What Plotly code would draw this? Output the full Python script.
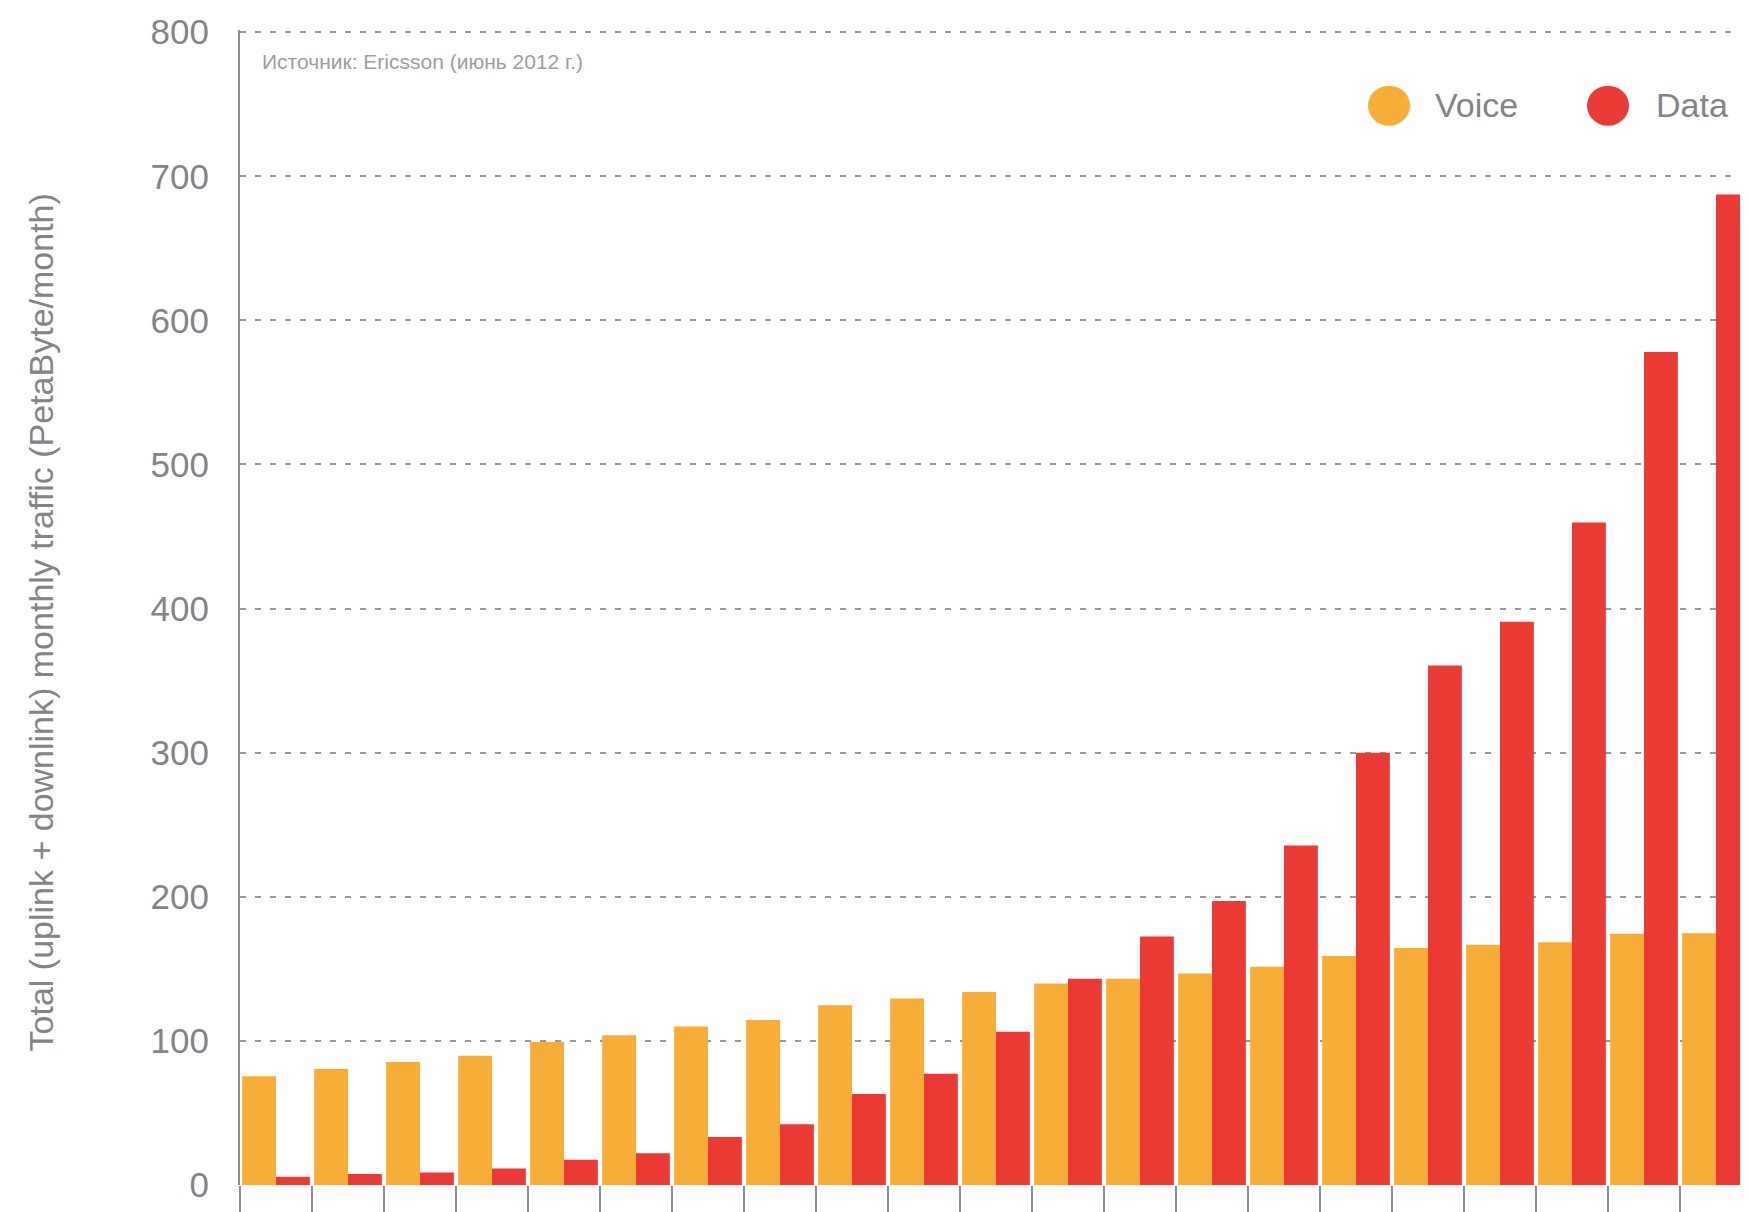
import plotly.graph_objects as go

# Quarters Q1 2007 .. Q1 2012 (no tick labels shown in the original)
quarters = [
    "Q1 2007", "Q2 2007", "Q3 2007", "Q4 2007",
    "Q1 2008", "Q2 2008", "Q3 2008", "Q4 2008",
    "Q1 2009", "Q2 2009", "Q3 2009", "Q4 2009",
    "Q1 2010", "Q2 2010", "Q3 2010", "Q4 2010",
    "Q1 2011", "Q2 2011", "Q3 2011", "Q4 2011",
    "Q1 2012",
]
voice = [75.5, 80.5, 85.3, 89.7, 99.3, 104.0, 110.0, 114.5, 124.8, 129.4, 134.0,
         139.8, 143.2, 146.7, 151.5, 158.9, 164.4, 166.7, 168.5, 174.3, 174.7]
data = [5.7, 7.6, 8.7, 11.5, 17.5, 22.0, 33.3, 42.1, 63.2, 77.2, 106.4,
        143.2, 172.4, 197.0, 235.6, 300.0, 360.5, 390.8, 459.8, 578.1, 687.3]
series_names = ["Voice", "Data"]
y_ticks = [0, 100, 200, 300, 400, 500, 600, 700, 800]
y_title = "Total (uplink + downlink) monthly traffic (PetaByte/month)"
source_note = "Источник: Ericsson (июнь 2012 г.)"

VOICE_COLOR = "#F7AD36"
DATA_COLOR = "#EB3A33"
GREY = "#828488"
FONT = "Liberation Sans, Arial, Helvetica, sans-serif"

fig = go.Figure()
fig.add_trace(go.Bar(x=quarters, y=voice, name=series_names[0],
                     marker=dict(color=VOICE_COLOR, line=dict(width=0)),
                     showlegend=False))
fig.add_trace(go.Bar(x=quarters, y=data, name=series_names[1],
                     marker=dict(color=DATA_COLOR, line=dict(width=0)),
                     showlegend=False))

W, H = 1748, 1212
ML, MR, MT, MB = 232, 4, 21, 31
pw = W - ML - MR
ph = H - MT - MB
YMAX = 801.5

def px_x(x):
    return (x - ML) / pw

def px_y(y):
    return (H - MB - y) / ph

fig.update_layout(
    width=W, height=H,
    margin=dict(l=ML, r=MR, t=MT, b=MB, pad=0),
    paper_bgcolor="white", plot_bgcolor="white",
    barmode="group", bargap=0.06, bargroupgap=0.0,
    font=dict(family=FONT, color=GREY),
    xaxis=dict(
        type="category", categoryorder="array", categoryarray=quarters,
        tickson="boundaries", ticks="outside", ticklen=31, tickwidth=2,
        tickcolor="#8a8d92", showticklabels=False, showgrid=False,
        showline=False, zeroline=False, range=[-0.5, len(quarters) - 0.5],
    ),
    yaxis=dict(
        range=[0, YMAX], tickvals=y_ticks, ticktext=[str(v) for v in y_ticks],
        tickfont=dict(size=35, color=GREY, family=FONT),
        ticks="", ticklabelstandoff=22,
        showgrid=True, gridcolor="#97999c", gridwidth=2, griddash="6px,9px",
        showline=True, linecolor="#8a8d92", linewidth=2,
        zeroline=False,
    ),
    showlegend=False,
)

# y-axis title
fig.add_annotation(
    text=y_title, xref="paper", yref="paper",
    x=px_x(33), y=px_y(616), xanchor="center", yanchor="middle",
    textangle=-90, showarrow=False,
    font=dict(size=34, color=GREY, family=FONT),
)

# source note
fig.add_annotation(
    text=source_note, xref="paper", yref="paper",
    x=px_x(252), y=px_y(53), xanchor="left", yanchor="middle",
    showarrow=False, font=dict(size=21, color="#9c9ea1", family=FONT),
)

# custom legend: big circles + labels
legend_items = [
    (series_names[0], VOICE_COLOR, 1381, 1425),
    (series_names[1], DATA_COLOR, 1600, 1646),
]
for name, color, cx, tx in legend_items:
    fig.add_shape(
        type="circle", xref="paper", yref="paper",
        xsizemode="pixel", ysizemode="pixel",
        xanchor=px_x(cx), yanchor=px_y(97),
        x0=-21, x1=21, y0=-20, y1=20,
        fillcolor=color, line=dict(width=0),
    )
    fig.add_annotation(
        text=name, xref="paper", yref="paper",
        x=px_x(tx), y=px_y(96), xanchor="left", yanchor="middle",
        showarrow=False, font=dict(size=34, color=GREY, family=FONT),
    )

fig.write_html("out.html")
